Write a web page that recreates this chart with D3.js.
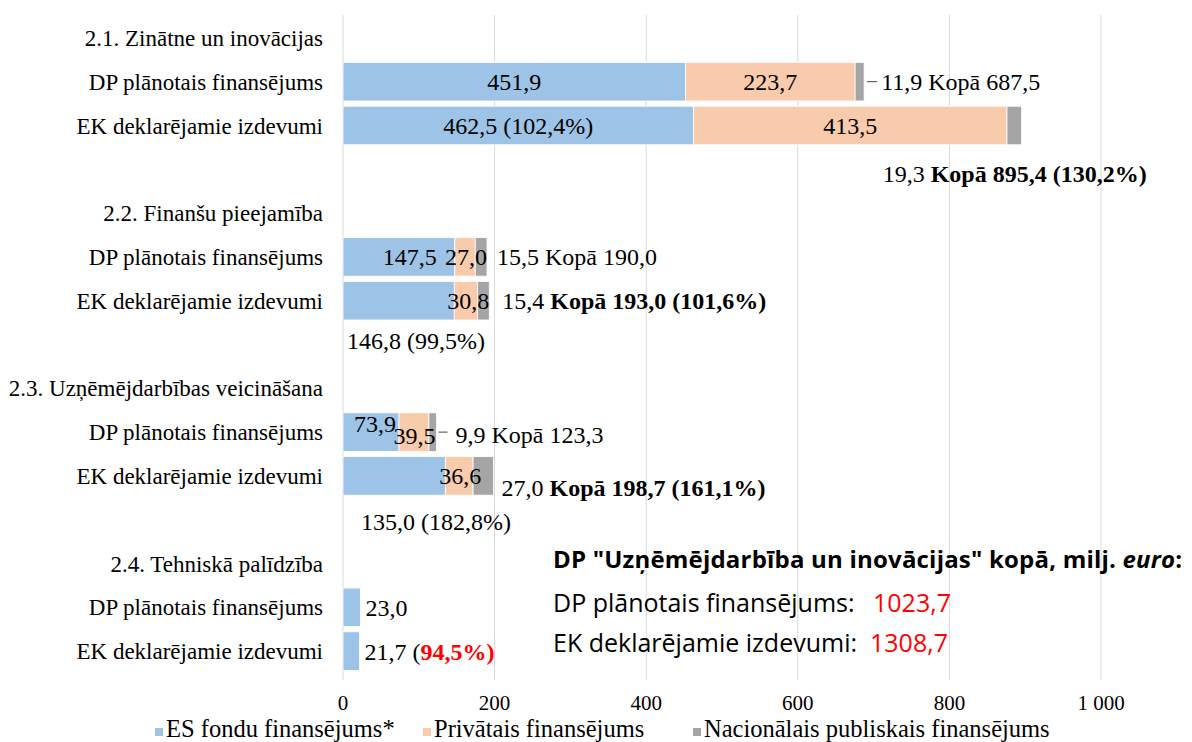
<!DOCTYPE html>
<meta charset="utf-8">
<script src="https://d3js.org/d3.v7.min.js"></script>
<style>
  body { margin: 0; background: #fff; }
  text { font-family: "Liberation Serif", "Times New Roman", serif; fill: #000; }
  text.note { font-family: "Open Sans", "Liberation Sans", sans-serif; }
</style>
<div id="chart"></div>
<script>
// ---- data ----
const groups = ["2.1. Zinātne un inovācijas", "2.2. Finanšu pieejamība", "2.3. Uzņēmējdarbības veicināšana", "2.4. Tehniskā palīdzība"];
const barNames = ["DP plānotais finansējums", "EK deklarējamie izdevumi"];
const seriesNames = ["ES fondu finansējums*", "Privātais finansējums", "Nacionālais publiskais finansējums"];
// [DP, EK] per group
const esFunds      = [[451.9, 462.5], [147.5, 146.8], [73.9, 135.0], [23.0, 21.7]];
const privateFunds = [[223.7, 413.5], [27.0, 30.8],   [39.5, 36.6],  [0, 0]];
const nationalFunds= [[11.9, 19.3],   [15.5, 15.4],   [9.9, 27.0],   [0, 0]];
const totals       = [[687.5, 895.4], [190.0, 193.0], [123.3, 198.7], [23.0, 21.7]];
const esShare      = ["102,4%", "99,5%", "182,8%", "94,5%"];   // EK ES funds vs DP, per group
const totalShare   = ["130,2%", "101,6%", "161,1%"];           // EK total vs DP, per group
const xTicks = [0, 200, 400, 600, 800, 1000];
const summaryTitle = "DP \"Uzņēmējdarbība un inovācijas\" kopā, milj. ";
const summaryDP = 1023.7, summaryEK = 1308.7;

const colors = ["#9DC3E6", "#F8CBAD", "#A5A5A5"];

const W = 1192, H = 742;
const svg = d3.select("#chart").append("svg").attr("width", W).attr("height", H);

const loc = d3.formatLocale({decimal: ",", thousands: "\u00a0", grouping: [3], currency: ["", ""]});
const f1 = loc.format(".1f");
const fTick = loc.format(",");

// rows: header, DP, EK, spacer for each group (no spacer after the last)
const rowKeys = [];
groups.forEach((g, i) => {
  rowKeys.push("h" + i, "b" + i + "_0", "b" + i + "_1");
  if (i < groups.length - 1) rowKeys.push("s" + i);
});

const x = d3.scaleLinear().domain([0, 1000]).range([343, 1101]);
const y = d3.scaleBand().domain(rowKeys).range([16, 673]).paddingInner(0.12).paddingOuter(0.06);

// gridlines
svg.append("g").selectAll("line").data(xTicks).join("line")
  .attr("x1", d => x(d)).attr("x2", d => x(d))
  .attr("y1", 15).attr("y2", 680)
  .attr("stroke", "#d9d9d9").attr("stroke-width", 1);

// tick labels
svg.append("g").selectAll("text").data(xTicks).join("text")
  .attr("x", d => x(d)).attr("y", 710)
  .attr("text-anchor", "middle").style("font-size", "21px")
  .text(d => fTick(d));

// row labels
const rowLabel = k => {
  if (k[0] === "h") return groups[+k.slice(1)];
  if (k[0] === "b") return barNames[+k.split("_")[1]];
  return "";
};
svg.append("g").selectAll("text").data(rowKeys.filter(k => k[0] !== "s")).join("text")
  .attr("x", 323).attr("y", k => y(k) + y.bandwidth() / 2)
  .attr("dy", "0.35em").attr("text-anchor", "end").style("font-size", "23px")
  .text(rowLabel);

// stacked bars
const bars = [];
groups.forEach((g, gi) => {
  [0, 1].forEach(bi => {
    let x0 = 0;
    [esFunds, privateFunds, nationalFunds].forEach((s, si) => {
      const v = s[gi][bi];
      bars.push({gi, bi, si, x0, x1: x0 + v, v});
      x0 += v;
    });
  });
});
svg.append("g").selectAll("rect").data(bars.filter(d => d.v > 0)).join("rect")
  .attr("x", d => x(d.x0))
  .attr("y", d => y("b" + d.gi + "_" + d.bi))
  .attr("width", d => x(d.x1) - x(d.x0))
  .attr("height", y.bandwidth())
  .attr("fill", d => colors[d.si])
  .attr("stroke", "#fff").attr("stroke-width", 0.8);

// ---- data labels ----
const lab = svg.append("g").style("font-size", "24px");
const seg = (gi, bi, si) => bars.find(d => d.gi === gi && d.bi === bi && d.si === si);
const yMid = (gi, bi) => y("b" + gi + "_" + bi) + y.bandwidth() / 2;
const yRow = k => y(k) + y.bandwidth() / 2;
const end = (gi, bi) => seg(gi, bi, 2).x1;
const mid = s => (x(s.x0) + x(s.x1)) / 2;

function put(px, py, anchor, parts) {
  const t = lab.append("text").attr("x", px).attr("y", py).attr("dy", "0.35em").attr("text-anchor", anchor);
  parts.forEach(p => {
    const ts = t.append("tspan").text(p.t);
    if (p.b) ts.style("font-weight", "bold");
    if (p.c) ts.style("fill", p.c);
  });
  return t;
}
function leader(gi, bi, a, b) {
  const xe = x(end(gi, bi));
  lab.append("line").attr("x1", xe + a).attr("x2", xe + b)
    .attr("y1", yMid(gi, bi)).attr("y2", yMid(gi, bi)).attr("stroke", "#404040");
}

// 2.1
put(mid(seg(0, 0, 0)), yMid(0, 0), "middle", [{t: f1(esFunds[0][0])}]);
put(mid(seg(0, 0, 1)), yMid(0, 0), "middle", [{t: f1(privateFunds[0][0])}]);
leader(0, 0, 3, 13);
put(x(end(0, 0)) + 17, yMid(0, 0), "start", [{t: f1(nationalFunds[0][0]) + " Kopā " + f1(totals[0][0])}]);
put(mid(seg(0, 1, 0)), yMid(0, 1), "middle", [{t: f1(esFunds[0][1]) + " (" + esShare[0] + ")"}]);
put(mid(seg(0, 1, 1)), yMid(0, 1), "middle", [{t: f1(privateFunds[0][1])}]);
put(x(end(0, 1)) - 7, yRow("s0") + 4, "middle",
  [{t: f1(nationalFunds[0][1]) + " "}, {t: "Kopā " + f1(totals[0][1]) + " (" + totalShare[0] + ")", b: true}]);

// 2.2
put(x(esFunds[1][0]) - 18, yMid(1, 0), "end", [{t: f1(esFunds[1][0])}]);
put(x(end(1, 0)), yMid(1, 0), "end", [{t: f1(privateFunds[1][0])}]);
put(x(end(1, 0)) + 10, yMid(1, 0), "start", [{t: f1(nationalFunds[1][0]) + " Kopā " + f1(totals[1][0])}]);
put(x(end(1, 1)), yMid(1, 1), "end", [{t: f1(privateFunds[1][1])}]);
put(x(end(1, 1)) + 13, yMid(1, 1), "start",
  [{t: f1(nationalFunds[1][1]) + " "}, {t: "Kopā " + f1(totals[1][1]) + " (" + totalShare[1] + ")", b: true}]);
put(x(0) + 4, yRow("s1") - 4, "start", [{t: f1(esFunds[1][1]) + " (" + esShare[1] + ")"}]);

// 2.3
put(x(esFunds[2][0]) - 3, yMid(2, 0) - 9, "end", [{t: f1(esFunds[2][0])}]);
put(x(end(2, 0)) - 1, yMid(2, 0) + 3, "end", [{t: f1(privateFunds[2][0])}]);
leader(2, 0, 2, 11);
put(x(end(2, 0)) + 19, yMid(2, 0) + 2, "start", [{t: f1(nationalFunds[2][0]) + " Kopā " + f1(totals[2][0])}]);
put(mid(seg(2, 1, 1)) + 1, yMid(2, 1), "middle", [{t: f1(privateFunds[2][1])}]);
put(x(end(2, 1)) + 8, yMid(2, 1) + 12, "start",
  [{t: f1(nationalFunds[2][1]) + " "}, {t: "Kopā " + f1(totals[2][1]) + " (" + totalShare[2] + ")", b: true}]);
put(x(0) + 18, yRow("s2") + 2, "start", [{t: f1(esFunds[2][1]) + " (" + esShare[2] + ")"}]);

// 2.4
put(x(totals[3][0]) + 5, yMid(3, 0), "start", [{t: f1(totals[3][0])}]);
put(x(totals[3][1]) + 5, yMid(3, 1), "start",
  [{t: f1(totals[3][1]) + " ("}, {t: esShare[3] + ")", b: true, c: "#ff0000"}]);

// ---- summary box ----
const n1 = svg.append("text").attr("class", "note").attr("x", 553).attr("y", 568)
  .style("font-size", "24px").style("font-weight", "bold").style("letter-spacing", "0.2px");
n1.append("tspan").text(summaryTitle);
n1.append("tspan").style("font-style", "italic").text("euro");
n1.append("tspan").text(":");
const n2 = svg.append("text").attr("class", "note").attr("x", 553).attr("y", 612).style("font-size", "25px");
n2.append("tspan").text("DP plānotais finansējums:");
n2.append("tspan").attr("x", 873).style("fill", "#ff0000").text(f1(summaryDP));
const n3 = svg.append("text").attr("class", "note").attr("x", 553).attr("y", 652).style("font-size", "25px");
n3.append("tspan").text("EK deklarējamie izdevumi:");
n3.append("tspan").attr("x", 870).style("fill", "#ff0000").text(f1(summaryEK));

// ---- legend ----
const legX = [155, 423, 693];
const leg = svg.append("g").selectAll("g").data(seriesNames).join("g")
  .attr("transform", (d, i) => `translate(${legX[i]},737)`);
leg.append("rect").attr("x", 0).attr("y", -9).attr("width", 8).attr("height", 8)
  .attr("fill", (d, i) => colors[i]);
leg.append("text").attr("x", 11).attr("y", 0).style("font-size", "24.5px").text(d => d);
</script>
